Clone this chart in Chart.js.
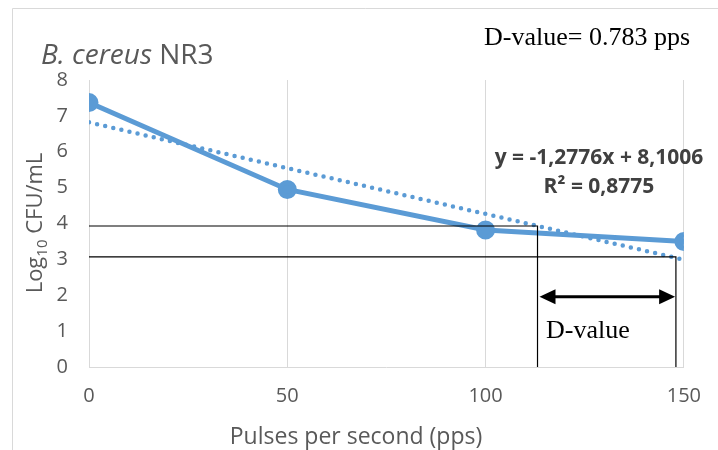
<!DOCTYPE html>
<html>
<head>
<meta charset="utf-8">
<script src="https://cdn.jsdelivr.net/npm/chart.js@4/dist/chart.umd.min.js"></script>
<style>
  html, body { margin: 0; padding: 0; background: #fff; }
  #wrap { width: 718px; height: 450px; }
</style>
</head>
<body>
<div id="wrap"><canvas id="chart" width="718" height="450"></canvas></div>
<script>
// values
const pulses = [0, 50, 100, 150];
const logCfu = [7.37, 4.95, 3.82, 3.5];

// excel linear trendline, read at both ends of the axis
const trendX = [0, 150];
const trendY = [6.82, 2.99];

// black helper lines (horizontal then down to the axis)
const guideAX = [0, 113.1, 113.1];
const guideAY = [3.93, 3.93, 0];
const guideBX = [0, 148, 148];
const guideBY = [3.07, 3.07, 0];

// double arrow marking the D-value
const arrowX = [113.6, 147.8];
const arrowY = 1.96;

const xTicks = [0, 50, 100, 150];
const yTicks = [0, 1, 2, 3, 4, 5, 6, 7, 8];

const titleItalic = "B. cereus ";
const titleRest = "NR3";
const dValueText = "D-value= 0.783 pps";
const dValueLabel = "D-value";
const eqLine1 = "y = -1,2776x + 8,1006";
const eqLine2 = "R² = 0,8775";
const xTitle = "Pulses per second (pps)";

const blue = "#5B9BD5";
const gray = "#595959";
const sans = "'Open Sans', sans-serif";
const serif = "'Liberation Serif', 'Times New Roman', serif";

const toPoints = (xs, ys) => xs.map((x, i) => ({ x: x, y: ys[i] }));

const extras = {
  id: "extras",
  beforeDraw: (chart) => {
    const ctx = chart.ctx;
    ctx.save();
    ctx.strokeStyle = "#d9d9d9";
    ctx.lineWidth = 1;
    ctx.beginPath();
    ctx.moveTo(12.5, 450);
    ctx.lineTo(12.5, 8.5);
    ctx.lineTo(718, 8.5);
    ctx.stroke();
    ctx.restore();
  },
  afterDatasetsDraw: (chart) => {
    const ctx = chart.ctx;
    const xs = chart.scales.x;
    const ys = chart.scales.y;
    const x1 = xs.getPixelForValue(arrowX[0]);
    const x2 = xs.getPixelForValue(arrowX[1]);
    const y = ys.getPixelForValue(arrowY);
    const head = 16;
    const half = 7.5;
    ctx.save();
    ctx.strokeStyle = "#000";
    ctx.fillStyle = "#000";
    ctx.lineWidth = 3;
    ctx.beginPath();
    ctx.moveTo(x1 + head - 2, y);
    ctx.lineTo(x2 - head + 2, y);
    ctx.stroke();
    ctx.beginPath();
    ctx.moveTo(x1, y);
    ctx.lineTo(x1 + head, y - half);
    ctx.lineTo(x1 + head, y + half);
    ctx.closePath();
    ctx.fill();
    ctx.beginPath();
    ctx.moveTo(x2, y);
    ctx.lineTo(x2 - head, y - half);
    ctx.lineTo(x2 - head, y + half);
    ctx.closePath();
    ctx.fill();
    ctx.restore();
  },
  afterDraw: (chart) => {
    const ctx = chart.ctx;
    ctx.save();
    ctx.textBaseline = "alphabetic";

    // title
    ctx.fillStyle = gray;
    ctx.textAlign = "left";
    ctx.font = "italic 28px " + sans;
    ctx.fillText(titleItalic, 41, 64);
    const w = ctx.measureText(titleItalic).width;
    ctx.font = "28px " + sans;
    ctx.fillText(titleRest, 41 + w, 64);

    // D-value texts
    ctx.fillStyle = "#000";
    ctx.font = "26px " + serif;
    ctx.fillText(dValueText, 484, 45);
    ctx.fillText(dValueLabel, 546, 338);

    // trendline equation
    ctx.fillStyle = "#404040";
    ctx.font = "bold 21px " + sans;
    ctx.textAlign = "center";
    ctx.fillText(eqLine1, 599, 164);
    ctx.fillText(eqLine2, 599, 193);

    // x axis title
    ctx.fillStyle = gray;
    ctx.font = "23px " + sans;
    ctx.fillText(xTitle, 356, 444);

    // y axis title with subscript
    ctx.translate(42, 223);
    ctx.rotate(-Math.PI / 2);
    ctx.textAlign = "left";
    const big = "22px " + sans;
    const small = "15px " + sans;
    ctx.font = big;
    const wLog = ctx.measureText("Log").width;
    const wRest = ctx.measureText(" CFU/mL").width;
    ctx.font = small;
    const wSub = ctx.measureText("10").width;
    let x = -(wLog + wSub + wRest) / 2;
    ctx.font = big;
    ctx.fillText("Log", x, 0);
    x += wLog;
    ctx.font = small;
    ctx.fillText("10", x, 5);
    x += wSub;
    ctx.font = big;
    ctx.fillText(" CFU/mL", x, 0);
    ctx.restore();
  },
};

new Chart(document.getElementById("chart"), {
  type: "line",
  data: {
    datasets: [
      {
        data: toPoints(guideAX, guideAY),
        borderColor: "#000",
        borderWidth: 1.2,
        pointRadius: 0,
        tension: 0,
      },
      {
        data: toPoints(guideBX, guideBY),
        borderColor: "#000",
        borderWidth: 1.2,
        pointRadius: 0,
        tension: 0,
      },
      {
        data: toPoints(pulses, logCfu),
        borderColor: blue,
        backgroundColor: blue,
        borderWidth: 5,
        pointRadius: 7,
        pointBackgroundColor: blue,
        pointBorderColor: blue,
        tension: 0,
      },
      {
        data: toPoints(trendX, trendY),
        borderColor: blue,
        borderWidth: 4.5,
        borderDash: [0, 8.3],
        borderCapStyle: "round",
        pointRadius: 0,
        tension: 0,
      },
    ],
  },
  options: {
    responsive: false,
    animation: false,
    devicePixelRatio: 1,
    layout: { padding: { left: 0, top: 80, right: 27, bottom: 0 } },
    plugins: {
      legend: { display: false },
      tooltip: { enabled: false },
      title: { display: false },
    },
    scales: {
      x: {
        type: "linear",
        min: 0,
        max: 150,
        afterFit: (scale) => {
          scale.height = 83;
        },
        afterBuildTicks: (scale) => {
          scale.ticks = xTicks.map((v) => ({ value: v }));
        },
        grid: { color: "#d9d9d9", lineWidth: 1, drawTicks: false },
        border: { color: "#d9d9d9", width: 1 },
        ticks: {
          padding: 17,
          color: gray,
          font: { family: "'Open Sans', sans-serif", size: 20 },
          maxRotation: 0,
        },
      },
      y: {
        min: 0,
        max: 8,
        afterFit: (scale) => {
          scale.width = 89;
        },
        afterBuildTicks: (scale) => {
          scale.ticks = yTicks.map((v) => ({ value: v }));
        },
        grid: { color: "rgba(0,0,0,0)", drawTicks: false },
        border: { color: "#d9d9d9", width: 1 },
        ticks: {
          padding: 21,
          color: gray,
          font: { family: "'Open Sans', sans-serif", size: 20 },
        },
      },
    },
  },
  plugins: [extras],
});
</script>
</body>
</html>
